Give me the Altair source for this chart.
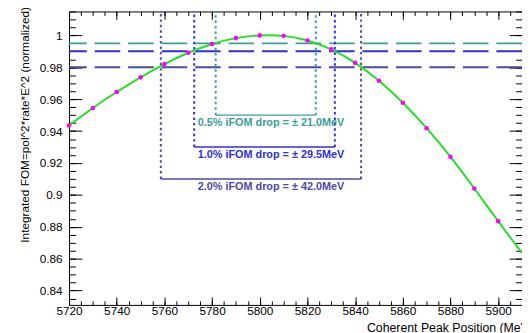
import altair as alt
import pandas as pd

# ---- data ----
peak_pos = [5720, 5730, 5740, 5750, 5760, 5770, 5780, 5790, 5800, 5810,
            5820, 5830, 5840, 5850, 5860, 5870, 5880, 5890, 5900]
fom = [0.9435, 0.9545, 0.9645, 0.9737, 0.9820, 0.9891, 0.9946, 0.9983, 1.0000, 0.9997,
       0.9968, 0.9912, 0.9828, 0.9716, 0.9578, 0.9418, 0.9238, 0.9040, 0.8835]
curve_end_x = [5910]
curve_end_y = [0.8635]

drops = ["0.5", "1.0", "2.0"]
thresholds = [0.995, 0.990, 0.980]
half_width = [21.0, 29.5, 42.0]
range_lo = [5781.5, 5772.5, 5758.5]
range_hi = [5823.5, 5831.5, 5842.5]
bracket_y = [0.950, 0.930, 0.910]
label_y = [0.945, 0.925, 0.905]
label_x = [5774.0, 5774.0, 5774.0]
colors = ["#3a9e9a", "#2e2ee6", "#4a4aa6"]

x_major = list(range(5720, 5911, 20))
x_minor = list(range(5720, 5911, 5))
y_major = [0.84, 0.86, 0.88, 0.90, 0.92, 0.94, 0.96, 0.98, 1.00]
y_minor = [round(0.835 + 0.005 * i, 3) for i in range(37)]

FONT = "Liberation Sans"

pts = pd.DataFrame({"x": peak_pos, "y": fom})
curve = pd.DataFrame({"x": peak_pos + curve_end_x, "y": fom + curve_end_y})
info = pd.DataFrame({
    "thr": thresholds, "lo": range_lo, "hi": range_hi, "yb": bracket_y,
    "ly": label_y, "lx": label_x, "c": colors,
    "label": [f"{d}% iFOM drop = \u00b1 {w:.1f}MeV" for d, w in zip(drops, half_width)],
})
vl = pd.DataFrame({
    "xv": range_lo + range_hi, "yb": bracket_y + bracket_y, "c": colors + colors,
})

xs = alt.Scale(domain=[5720, 5910], nice=False, zero=False)
ys = alt.Scale(domain=[0.831, 1.015], nice=False, zero=False)

common = dict(domain=False, grid=False, tickColor="black", tickWidth=1,
              labelColor="black", labelFont=FONT, labelFontSize=12,
              labelFlush=False, labelOverlap=False,
              titleFont=FONT, titleColor="black", titleFontWeight="normal")

ax_b_major = alt.Axis(orient="bottom", values=x_major, tickSize=8, offset=-8,
                      labelPadding=1, format="d",
                      title="Coherent Peak Position (MeV)", titleFontSize=12.5,
                      titleX=302, titleY=31, titleAlign="left",
                      titleBaseline="middle", titleAnchor="start", **common)
ax_b_minor = alt.Axis(orient="bottom", values=x_minor, tickSize=4, offset=-4,
                      labels=False, title=None, **common)
ax_t_major = alt.Axis(orient="top", values=x_major, tickSize=8, offset=-8,
                      labels=False, title=None, **common)
ax_t_minor = alt.Axis(orient="top", values=x_minor, tickSize=4, offset=-4,
                      labels=False, title=None, **common)
ax_l_major = alt.Axis(orient="left", values=y_major, tickSize=13, offset=-13,
                      labelPadding=7, labelExpr="format(datum.value, '~g')",
                      title="Integrated FOM=pol^2*rate*E^2 (normalized)",
                      titleFontSize=12, titleAngle=-90, titleAlign="right",
                      titleBaseline="middle", titleX=-58, titleY=-5, **common)
ax_l_minor = alt.Axis(orient="left", values=y_minor, tickSize=6.5, offset=-6.5,
                      labels=False, title=None, **common)
ax_r_major = alt.Axis(orient="right", values=y_major, tickSize=13, offset=-13,
                      labels=False, title=None, **common)
ax_r_minor = alt.Axis(orient="right", values=y_minor, tickSize=6.5, offset=-6.5,
                      labels=False, title=None, **common)

line = alt.Chart(curve).mark_line(color="#22e022", strokeWidth=2,
                                  interpolate="natural", clip=True).encode(
    x=alt.X("x:Q", scale=xs, axis=ax_b_major),
    y=alt.Y("y:Q", scale=ys, axis=ax_l_major),
)
points = alt.Chart(pts).mark_circle(color="#ff00ff", size=22, opacity=1).encode(
    x=alt.X("x:Q", scale=xs, axis=ax_b_minor),
    y=alt.Y("y:Q", scale=ys, axis=ax_l_minor),
)
hlines = alt.Chart(info).mark_rule(strokeWidth=2, strokeDash=[26, 8]).encode(
    y=alt.Y("thr:Q", scale=ys, axis=ax_r_major),
    color=alt.Color("c:N", scale=None),
)
vlines = alt.Chart(vl).mark_rule(strokeWidth=2, strokeDash=[2.5, 3]).encode(
    x=alt.X("xv:Q", scale=xs, axis=ax_t_major),
    y=alt.Y("yb:Q", scale=ys, axis=ax_r_minor),
    y2=alt.value(0),
    color=alt.Color("c:N", scale=None),
)
brackets = alt.Chart(info).mark_rule(strokeWidth=1.5).encode(
    x=alt.X("lo:Q", scale=xs, axis=ax_t_minor),
    x2="hi:Q",
    y=alt.Y("yb:Q", scale=ys, axis=None),
    color=alt.Color("c:N", scale=None),
)
texts = alt.Chart(info).mark_text(font=FONT, fontWeight="bold", fontSize=11,
                                  align="left", baseline="middle").encode(
    x=alt.X("lx:Q", scale=xs, axis=None),
    y=alt.Y("ly:Q", scale=ys, axis=None),
    text="label:N",
    color=alt.Color("c:N", scale=None),
)

chart = alt.layer(hlines, vlines, brackets, line, points, texts).resolve_axis(
    x="independent", y="independent"
).properties(
    width=460, height=298,
    padding={"left": 62, "top": 1, "right": 0, "bottom": 26},
    autosize=alt.AutoSizeParams(type="none"),
    background="white",
).configure_view(stroke="black", strokeWidth=1)

chart.save("out.html", embed_options={"renderer": "svg", "actions": False})
